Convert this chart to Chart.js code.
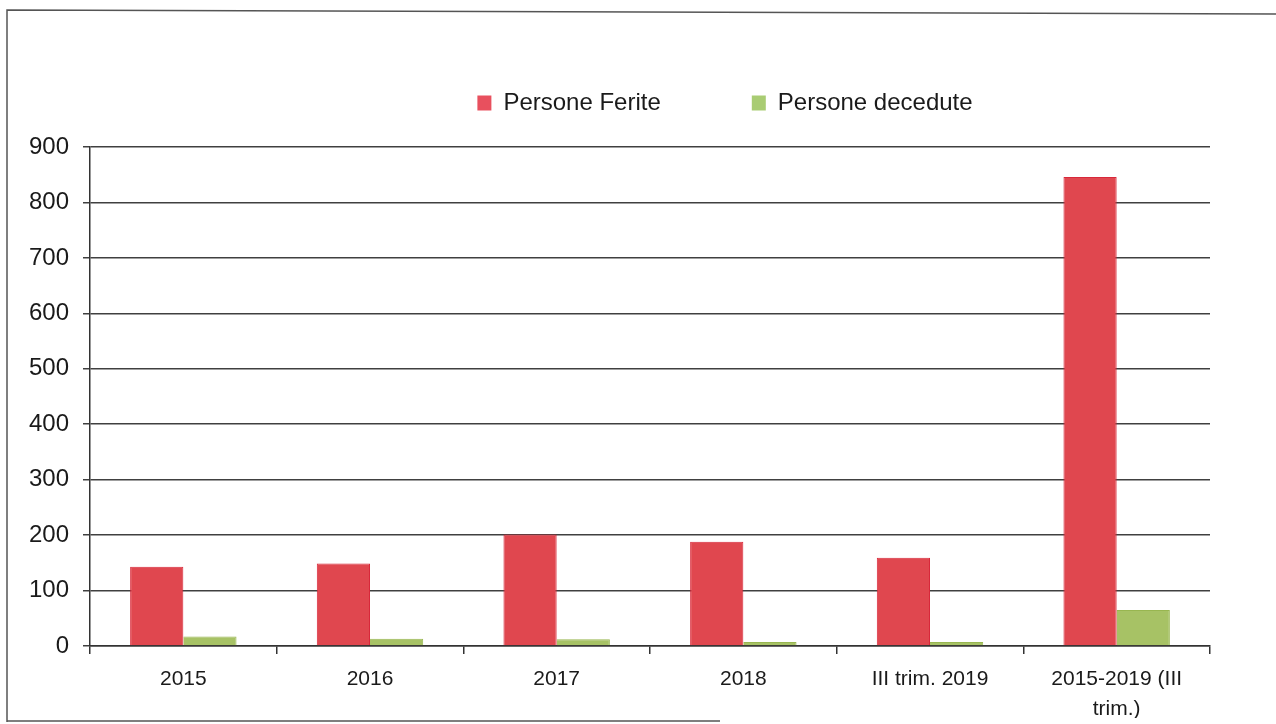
<!DOCTYPE html>
<html>
<head>
<meta charset="utf-8">
<script src="https://cdn.jsdelivr.net/npm/chart.js@4"></script>
<style>
html,body{margin:0;padding:0;background:#fff;}
#wrap{width:1276px;height:724px;position:relative;}
</style>
</head>
<body>
<div id="wrap"><canvas id="c" width="1276" height="724"></canvas></div>
<script>
const categories = ["2015", "2016", "2017", "2018", "III trim. 2019", ["2015-2019 (III", "trim.)"]];
const personeFerite = [143, 149, 201, 188, 159, 846];
const personeDecedute = [17, 13, 12, 7, 7, 65];
const yTicks = [0, 100, 200, 300, 400, 500, 600, 700, 800, 900];

const FONT = "'Liberation Sans', Arial, sans-serif";

const framePlugin = {
  id: 'frame',
  afterLayout(chart) {
    const lg = chart.legend;
    if (lg) {
      const dx = 115;
      lg.left += dx; lg.right += dx;
      lg.top -= 22; lg.bottom -= 22;
    }
  },
  afterDraw(chart) {
    const ctx = chart.ctx;
    ctx.save();
    ctx.strokeStyle = '#555';
    ctx.lineWidth = 1.5;
    ctx.beginPath();
    ctx.moveTo(7, 722);
    ctx.lineTo(7, 10);
    ctx.lineTo(1276, 14);
    ctx.stroke();
    ctx.beginPath();
    ctx.moveTo(7, 721);
    ctx.lineTo(720, 721);
    ctx.stroke();
    ctx.restore();
  }
};

new Chart(document.getElementById('c'), {
  type: 'bar',
  data: {
    labels: categories,
    datasets: [
      {
        label: 'Persone Ferite',
        data: personeFerite,
        backgroundColor: '#e0474f',
        borderColor: '#d8283a',
        borderWidth: {left: 1, right: 1, top: 1, bottom: 0},
        categoryPercentage: 0.57,
        barPercentage: 1.0
      },
      {
        label: 'Persone decedute',
        data: personeDecedute,
        backgroundColor: '#a7c265',
        borderColor: '#98b650',
        borderWidth: {left: 0, right: 1, top: 1, bottom: 0},
        categoryPercentage: 0.57,
        barPercentage: 1.0
      }
    ]
  },
  options: {
    responsive: false,
    animation: false,
    devicePixelRatio: 1,
    layout: { padding: { left: 10, right: 66, top: 22, bottom: 6 } },
    plugins: {
      legend: {
        position: 'top',
        labels: {
          boxWidth: 14,
          boxHeight: 15,
          padding: 91,
          color: '#1a1a1a',
          font: { family: FONT, size: 24 },
          generateLabels(chart) {
            const cols = ['#e8505e', '#a9cc73'];
            return chart.data.datasets.map((d, i) => ({
              text: d.label,
              fillStyle: cols[i],
              strokeStyle: cols[i],
              lineWidth: 0,
              hidden: false,
              datasetIndex: i,
              fontColor: '#1a1a1a'
            }));
          }
        }
      },
      tooltip: { enabled: false }
    },
    scales: {
      x: {
        grid: {
          display: true,
          drawOnChartArea: false,
          drawTicks: true,
          tickLength: 8,
          offset: true,
          color: '#333',
          lineWidth: 1.5
        },
        border: { color: '#333', width: 1.5 },
        ticks: {
          color: '#1a1a1a',
          font: { family: FONT, size: 21, lineHeight: 1.45 },
          padding: 10,
          maxRotation: 0,
          autoSkip: false
        },
        afterFit(scale) { scale.height = 72; }
      },
      y: {
        min: 0,
        max: 900,
        afterBuildTicks(scale) { scale.ticks = yTicks.map(v => ({ value: v })); },
        grid: {
          color: '#404040',
          lineWidth: 1.5,
          tickLength: 7,
          drawTicks: true
        },
        border: { color: '#333', width: 1.5 },
        ticks: {
          color: '#1a1a1a',
          font: { family: FONT, size: 24 },
          padding: 14
        },
        afterFit(scale) { scale.width = 80; }
      }
    }
  },
  plugins: [framePlugin]
});
</script>
</body>
</html>
